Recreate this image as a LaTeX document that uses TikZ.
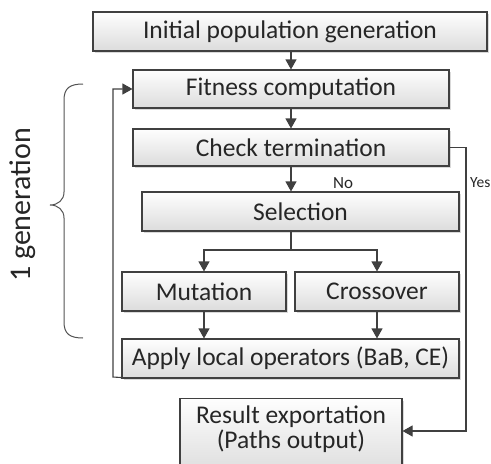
\documentclass[tikz,border=0pt]{standalone}
\usepackage{fontspec}
\setmainfont{Carlito}
\usetikzlibrary{arrows.meta,shadows,calc}
\definecolor{edge}{HTML}{404040}
\definecolor{boxtop}{HTML}{FEFEFE}
\definecolor{boxbot}{HTML}{DCDCDC}
\tikzset{
  box/.style={draw=edge, line width=1.1pt, top color=boxtop, bottom color=boxbot,
    drop shadow={shadow xshift=2pt, shadow yshift=-2pt, fill=black!25, opacity=0.6},
    inner sep=0pt, align=center, font=\fontsize{25.5}{26}\selectfont, text=black!85},
  conn/.style={draw=edge, line width=1.1pt},
  arr/.style={conn, -{Triangle[width=11pt,length=10pt]}},
  lab/.style={font=\fontsize{17}{19}\selectfont, text=black!85, inner sep=0pt}
}
\newcommand{\mkbox}[6]{\node[box, minimum width=#4-#2, minimum height=#5-#3] (#1) at ({(#2+#4)/2},{(#3+#5)/2}) {#6};}
\begin{document}
\begin{tikzpicture}[x=1pt,y=-1pt]
\useasboundingbox (0,0) rectangle (491,464);
\mkbox{init}{93}{12}{487}{51}{Initial population generation}
\mkbox{fit}{133}{70}{449}{108}{Fitness computation}
\mkbox{check}{133}{129}{449}{166}{Check termination}
\mkbox{sel}{142}{192}{459}{231}{Selection}
\mkbox{mut}{122}{272}{286}{311}{Mutation}
\mkbox{cross}{295}{272}{459}{311}{Crossover}
\mkbox{apply}{122}{339}{459}{378}{Apply local operators (BaB, CE)}
\node[box, minimum width=222, minimum height=77, anchor=north] (res) at (291,398) {Result exportation\\[-1pt](Paths output)\rule[-20pt]{0pt}{0pt}};
% main flow
\draw[arr] (init.south -| 291,0) -- (fit.north -| 291,0);
\draw[arr] (fit.south -| 291,0) -- (check.north -| 291,0);
\draw[arr] (check.south -| 291,0) -- (sel.north -| 291,0);
\coordinate (tee) at (291,250);
\draw[conn] (sel.south -| tee) -- (tee);
\draw[arr] (tee) -| (mut.north);
\draw[arr] (tee) -| (cross.north);
\draw[arr] (mut.south) -- (apply.north -| mut.south);
\draw[arr] (cross.south) -- (apply.north -| cross.south);
% feedback
\coordinate (fbl) at (113,377);
\draw[arr] ($(apply.south west)+(0,-1)$) -- (fbl) |- (fit.west);
% yes branch
\coordinate (yr) at (466,147);
\draw[arr] (check.east) -- (check.east -| yr) |- (res.east |- 0,431);
\node[lab, font=\fontsize{15.5}{17}\selectfont, anchor=east] (yes) at (490.5,183) {Yes};
\node[lab, anchor=west] (no) at (333,183) {No};
% brace
\draw[edge!90, line width=1pt]
  (83,84) .. controls (70,84) and (64,88) .. (64,100) -- (64,192)
  .. controls (64,200) and (58,205) .. (50,205)
  .. controls (58,205) and (64,210) .. (64,218) -- (64,322)
  .. controls (64,334) and (70,338) .. (83,338);
\node[rotate=90, font=\fontsize{30}{32}\selectfont, text=black!85] (gen) at (23,205) {1 generation};
\end{tikzpicture}
\end{document}
